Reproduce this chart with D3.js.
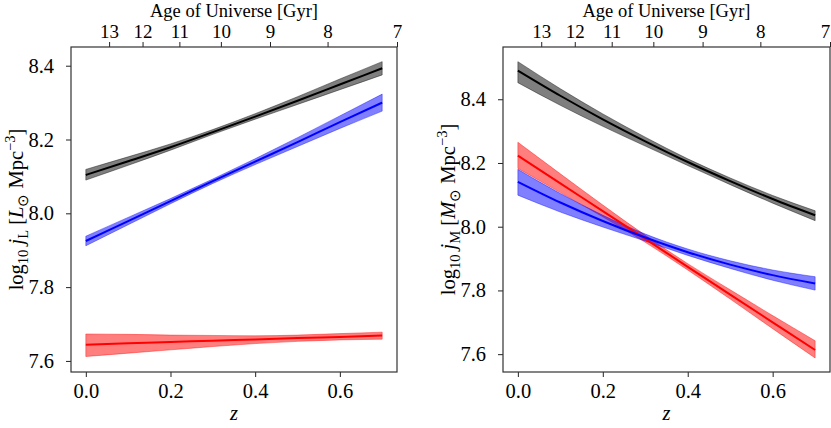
<!DOCTYPE html>
<meta charset="utf-8">
<script src="https://d3js.org/d3.v7.min.js"></script>
<style>
  body { margin: 0; background: #fff; }
  text { font-family: "Liberation Serif", "Times New Roman", serif; fill: #000; }
</style>
<div id="container"></div>
<script>
// redshift grid
var zs = [0, 0.1, 0.2, 0.3, 0.4, 0.5, 0.6, 0.7];

// left panel: luminosity density
var lumBlack   = [8.104, 8.141, 8.179, 8.220, 8.262, 8.305, 8.349, 8.393];
var lumBlackHi = [8.119, 8.153, 8.188, 8.227, 8.270, 8.316, 8.364, 8.411];
var lumBlackLo = [8.090, 8.130, 8.171, 8.214, 8.255, 8.295, 8.335, 8.375];
var lumBlue    = [7.925, 7.979, 8.033, 8.087, 8.140, 8.193, 8.247, 8.300];
var lumBlueHi  = [7.938, 7.989, 8.040, 8.093, 8.148, 8.205, 8.264, 8.323];
var lumBlueLo  = [7.912, 7.969, 8.026, 8.081, 8.132, 8.181, 8.230, 8.277];
var lumRed     = [7.644, 7.648, 7.651, 7.655, 7.658, 7.662, 7.665, 7.669];
var lumRedHi   = [7.673, 7.672, 7.670, 7.669, 7.668, 7.670, 7.674, 7.678];
var lumRedLo   = [7.612, 7.621, 7.630, 7.639, 7.647, 7.653, 7.657, 7.659];

// right panel: mass density
var massBlack   = [8.490, 8.411, 8.337, 8.268, 8.203, 8.143, 8.087, 8.036];
var massBlackHi = [8.518, 8.433, 8.354, 8.281, 8.213, 8.153, 8.098, 8.050];
var massBlackLo = [8.452, 8.381, 8.315, 8.253, 8.192, 8.132, 8.074, 8.019];
var massRed     = [8.223, 8.136, 8.049, 7.962, 7.874, 7.787, 7.700, 7.613];
var massRedHi   = [8.265, 8.166, 8.068, 7.973, 7.884, 7.802, 7.721, 7.642];
var massRedLo   = [8.183, 8.107, 8.031, 7.951, 7.864, 7.773, 7.680, 7.588];
var massBlue    = [8.141, 8.076, 8.018, 7.966, 7.920, 7.881, 7.848, 7.822];
var massBlueHi  = [8.180, 8.104, 8.036, 7.977, 7.930, 7.893, 7.864, 7.843];
var massBlueLo  = [8.099, 8.046, 7.999, 7.955, 7.910, 7.869, 7.832, 7.801];

// tick labels
var zTicks = [0, 0.2, 0.4, 0.6];
var yTicks = [7.6, 7.8, 8.0, 8.2, 8.4];
var ageLabels = [13, 12, 11, 10, 9, 8, 7];
var ageZ = [0.055, 0.134, 0.221, 0.319, 0.435, 0.571, 0.735];

var W = 831, H = 428;
var FS = "20.5px", FSS = "14.5px";
var svg = d3.select("#container").append("svg")
  .attr("width", W).attr("height", H);

var top0 = 47, bottom0 = 372;

function drawPanel(left, right, ydom, series, labelFn) {
  var x = d3.scaleLinear().domain([-0.035, 0.735]).range([left, right]);
  var y = d3.scaleLinear().domain(ydom).range([bottom0, top0]);
  var g = svg.append("g");

  // bands then lines
  series.forEach(function (s) {
    var pts = zs.map(function (z, i) { return { z: z, lo: s.lo[i], hi: s.hi[i] }; });
    var area = d3.area().curve(d3.curveMonotoneX)
      .x(function (d) { return x(d.z); })
      .y0(function (d) { return y(d.lo); })
      .y1(function (d) { return y(d.hi); });
    g.append("path").attr("d", area(pts))
      .attr("fill", s.color).attr("fill-opacity", 0.5)
      .attr("stroke", s.color).attr("stroke-opacity", 0.5).attr("stroke-width", 0.8);
  });
  series.forEach(function (s) {
    var pts = zs.map(function (z, i) { return { z: z, v: s.mid[i] }; });
    var line = d3.line().curve(d3.curveMonotoneX)
      .x(function (d) { return x(d.z); })
      .y(function (d) { return y(d.v); });
    g.append("path").attr("d", line(pts))
      .attr("fill", "none").attr("stroke", s.color).attr("stroke-width", 2);
  });

  // axes
  var xb = g.append("g").attr("transform", "translate(0," + bottom0 + ")")
    .call(d3.axisBottom(x).tickValues(zTicks).tickSize(5).tickPadding(6).tickFormat(d3.format(".1f")));
  var yl = g.append("g").attr("transform", "translate(" + left + ",0)")
    .call(d3.axisLeft(y).tickValues(yTicks).tickSize(5).tickPadding(12).tickFormat(d3.format(".1f")));
  var xt = g.append("g").attr("transform", "translate(0," + top0 + ")")
    .call(d3.axisTop(x).tickValues(ageZ).tickSize(5).tickPadding(4.4)
      .tickFormat(function (d, i) { return ageLabels[i]; }));
  [xb, yl].forEach(function (a) {
    a.selectAll("text").style("font-size", FS);
  });
  xt.selectAll("text").style("font-size", "19px");
  // keep the last age label inside the page
  if (right >= W - 2) {
    xt.selectAll("text").filter(function (d, i) { return i === ageZ.length - 1; })
      .attr("dx", -5);
  }
  [xb, yl, xt].forEach(function (a) {
    a.select(".domain").remove();
    a.selectAll("line").attr("stroke", "#222").attr("stroke-width", 1);
    a.selectAll("text").style("font-family", "Liberation Serif");
  });

  g.append("rect").attr("x", left).attr("y", top0)
    .attr("width", right - left).attr("height", bottom0 - top0)
    .attr("fill", "none").attr("stroke", "#333").attr("stroke-width", 1.2);

  var cx = (left + right) / 2;
  g.append("text").attr("x", cx).attr("y", 16.6).attr("text-anchor", "middle")
    .style("font-size", "18.5px").text("Age of Universe [Gyr]");
  g.append("text").attr("x", cx).attr("y", 420).attr("text-anchor", "middle")
    .style("font-size", FS).style("font-style", "italic").text("z");

  var lab = g.append("text")
    .attr("transform", "translate(" + (left - 48) + "," + ((top0 + bottom0) / 2) + ") rotate(-90)")
    .attr("text-anchor", "middle").style("font-size", FS);
  labelFn(lab);
}

function yLabel(sym) {
  return function (t) {
    t.append("tspan").text("log");
    t.append("tspan").attr("dy", 5).style("font-size", FSS).text("10");
    t.append("tspan").attr("dy", -5).text(" ");
    t.append("tspan").style("font-style", "italic").text("j");
    t.append("tspan").attr("dy", 5).style("font-size", FSS).text(sym);
    t.append("tspan").attr("dy", -5).text(" [");
    t.append("tspan").style("font-style", "italic").text(sym);
    t.append("tspan").attr("dy", 5).style("font-size", FSS).text("\u2299");
    t.append("tspan").attr("dy", -5).text(" Mpc");
    t.append("tspan").attr("dy", -8).style("font-size", FSS).text("\u22123");
    t.append("tspan").attr("dy", 8).text("]");
  };
}

drawPanel(71, 397, [7.570, 8.4507], [
  { color: "black", mid: lumBlack, hi: lumBlackHi, lo: lumBlackLo },
  { color: "blue", mid: lumBlue, hi: lumBlueHi, lo: lumBlueLo },
  { color: "red", mid: lumRed, hi: lumRedHi, lo: lumRedLo }
], yLabel("L"));

drawPanel(503, 830, [7.544, 8.564], [
  { color: "black", mid: massBlack, hi: massBlackHi, lo: massBlackLo },
  { color: "red", mid: massRed, hi: massRedHi, lo: massRedLo },
  { color: "blue", mid: massBlue, hi: massBlueHi, lo: massBlueLo }
], yLabel("M"));
</script>
